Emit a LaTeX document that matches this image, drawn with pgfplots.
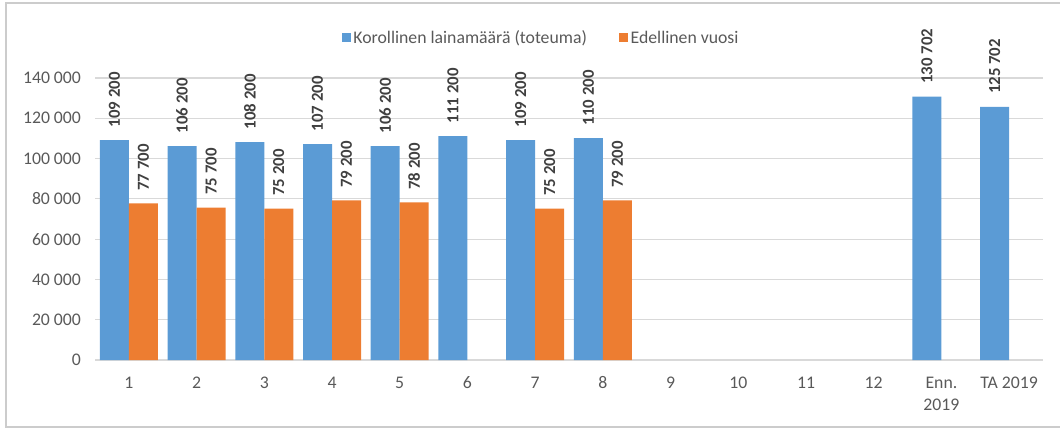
\documentclass[border=0pt]{standalone}
\usepackage{pgfplots}
\pgfplotsset{compat=1.18}
\usepackage{fontspec}
\setmainfont{Carlito}
\definecolor{cblue}{HTML}{5B9BD5}
\definecolor{corange}{HTML}{ED7D31}
\definecolor{tickgrey}{HTML}{595959}
\definecolor{lblgrey}{HTML}{404040}
\definecolor{gridgrey}{HTML}{D9D9D9}
\definecolor{framegrey}{HTML}{CCCCCC}
\begin{document}
\begin{tikzpicture}
\useasboundingbox (0,0) rectangle (795pt,322.5pt);
\begin{scope}[x=0.75pt,y=0.75pt]
\draw[framegrey, line width=1.5pt] (1062,427) -- (6,427) -- (6,3) -- (1062,3);
\end{scope}
\begin{axis}[
  at={(71.25pt,52.5pt)}, anchor=south west,
  scale only axis, width=711pt, height=211.5pt,
  ybar=0pt, bar width=21.75pt,
  xmin=-0.5, xmax=13.5, ymin=0, ymax=140000,
  xtick={0,1,2,3,4,5,6,7,8,9,10,11,12,13},
  xticklabels={1,2,3,4,5,6,7,8,9,10,11,12,{Enn.\\2019},{TA 2019}},
  ytick={0,20000,40000,60000,80000,100000,120000,140000},
  scaled y ticks=false,
  /pgf/number format/.cd, fixed, precision=0, 1000 sep={\ }, assume math mode=true,
  /pgfplots/.cd,
  major tick length=0pt,
  axis line style={draw=none},
  ymajorgrids, grid style={gridgrey, line width=0.9pt},
  tick label style={font=\fontsize{13.3}{16.5}\selectfont, text=tickgrey},
  xticklabel style={align=center, yshift=-9pt},
  yticklabel style={xshift=-7pt},
  nodes near coords,
  nodes near coords style={rotate=90, anchor=west, inner xsep=9.5pt,
    font=\bfseries\fontsize{12.6}{15}\selectfont, text=lblgrey},
  clip=false,
  legend columns=2,
  legend style={at={(0.471,1.142)}, anchor=center, draw=none, fill=none,
    font=\fontsize{13.3}{16}\selectfont, text=tickgrey,
    /tikz/every even column/.append style={column sep=22pt}},
]
\addplot[fill=cblue, draw=none,
  legend image code/.code={\fill[cblue] (0pt,-3.4pt) rectangle (6.75pt,3.4pt);}]
  coordinates {(0,109200) (1,106200) (2,108200) (3,107200) (4,106200) (5,111200) (6,109200) (7,110200) (12,130702) (13,125702)};
\addplot[fill=corange, draw=none,
  legend image code/.code={\fill[corange] (0pt,-3.4pt) rectangle (6.75pt,3.4pt);}]
  coordinates {(0,77700) (1,75700) (2,75200) (3,79200) (4,78200) (6,75200) (7,79200)};
\legend{Korollinen lainamäärä (toteuma), Edellinen vuosi}
\end{axis}
\end{tikzpicture}
\end{document}
